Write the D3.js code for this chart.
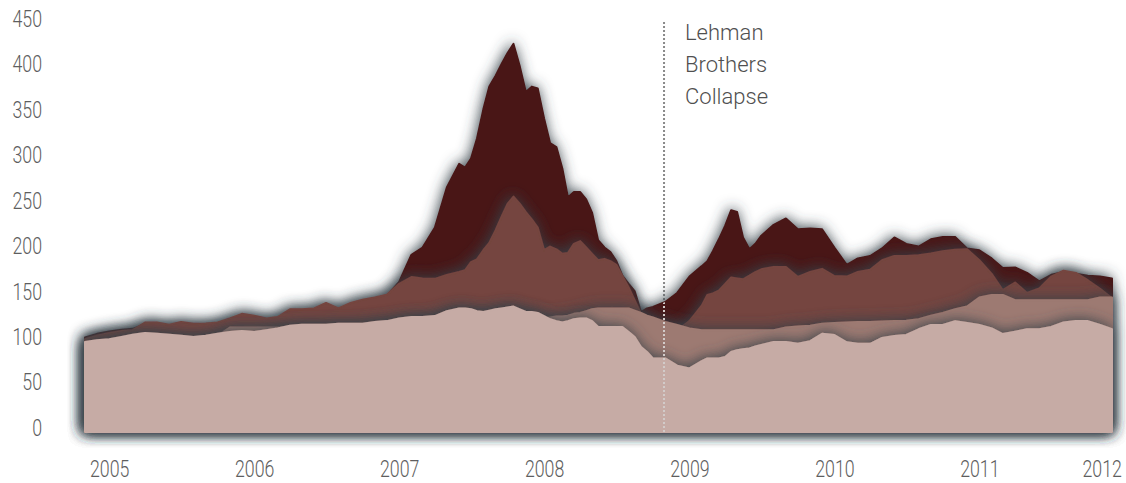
<!DOCTYPE html>
<html>
<head>
<meta charset="utf-8">
<script src="https://cdn.jsdelivr.net/npm/d3@7"></script>
<style>
  html, body { margin: 0; padding: 0; background: #ffffff; }
  svg { display: block; }
  .tick text { font-family: 'Roboto', 'Liberation Sans Narrow', 'DejaVu Sans Condensed', sans-serif; font-weight: 300; fill: #5e5e5e; }
  .note { font-family: 'Roboto', 'Open Sans', sans-serif; font-weight: 300; fill: #505050; }
</style>
</head>
<body>
<div id="chart"></div>
<script>
// ---------------- data ----------------
const dates = [
  "2004-11-01","2004-12-01","2005-01-01","2005-02-01","2005-03-01","2005-04-01","2005-05-01","2005-06-01",
  "2005-07-01","2005-08-01","2005-09-01","2005-10-01","2005-11-01","2005-12-01","2006-01-01","2006-02-01",
  "2006-03-01","2006-04-01","2006-05-01","2006-06-01","2006-07-01","2006-08-01","2006-09-01","2006-10-01",
  "2006-11-01","2006-12-01","2007-01-01","2007-02-01","2007-03-01","2007-04-01","2007-05-01","2007-06-01",
  "2007-06-16","2007-07-01","2007-07-16","2007-08-01","2007-08-16","2007-09-01","2007-09-16","2007-10-01",
  "2007-10-16","2007-11-01","2007-11-16","2007-12-01","2007-12-16","2008-01-01","2008-01-16","2008-02-01",
  "2008-02-16","2008-03-01","2008-03-16","2008-04-01","2008-04-16","2008-05-01","2008-05-16","2008-06-01",
  "2008-06-16","2008-07-01","2008-07-16","2008-08-01","2008-08-16","2008-09-01","2008-09-16","2008-10-01",
  "2008-11-01","2008-12-01","2009-01-01","2009-02-01","2009-02-15","2009-03-01","2009-03-16","2009-04-01",
  "2009-04-16","2009-05-01","2009-05-16","2009-06-01","2009-06-16","2009-07-01","2009-08-01","2009-09-01",
  "2009-10-01","2009-11-01","2009-12-01","2010-01-01","2010-02-01","2010-03-01","2010-04-01","2010-05-01",
  "2010-06-01","2010-07-01","2010-08-01","2010-09-01","2010-10-01","2010-11-01","2010-12-01","2011-01-01",
  "2011-02-01","2011-03-01","2011-04-01","2011-05-01","2011-06-01","2011-07-01","2011-08-01","2011-09-01",
  "2011-10-01","2011-11-01","2011-12-01"
];

// darkest series (drawn at the back)
const series1 = [
  104,108,110.5,112.5,113.5,118.5,118.5,116,
  119,117,117.5,118.5,123,128,126,123,
  124.5,133,133,134,140,134,140,143.5,
  146,150,165,195,203,225,269,295,
  291,301,323,355,380,392,405,417,
  427,402,374,380,378,345,318,313.5,
  290,258,264,264,256,241,211,203,
  198,188,172,163,155,132,136,137.5,
  143,153,171,182.5,188,199,212,227,
  244,242,214,201,207,216,228,235,
  223,224,223,203,184,191,193.6,202,
  214,207,204,212,214.5,214.5,202,200,
  191,180.5,181,175,165.7,173,176,174,
  172,171,169
];

// medium series
const series2 = [
  102,106,109,111,112,120.5,120.5,118,
  121,119,119.5,120.5,125,130,128,125,
  126.5,135,135,136,142,136,142,145.5,
  148,151,163,170.5,169,168.5,172.7,176,
  178,187,190,200,208,222,237,251,
  259,251,242,234,225,200,204,201,
  196,197,207,210,203,196,189,190.5,
  188,184,172,159,145,130,124,118,
  114,112,122,139,150.7,152.5,155.5,163,
  170,169,168,172,176,179,181.5,181.5,
  170.5,176,179.5,171.6,171,176,178.6,189,
  193.6,193.6,194.5,196.5,199,200.5,201,189,
  174,156,164.5,153,158,171,177.5,175,
  167,157.5,147
];

// mid-light series
const series3 = [
  97,99,100,102.5,105,107,106,105,
  104,102.5,104,106,115,115,115,115,
  115,115,116,116,116,117,117,117,
  119,120,122,124,124,125,130,133,
  133,132,131,129,131,132,133,134,
  135,133,130,130,129,125,126,127,
  127,128,130,131,133,135,136,136,
  136,136,136,136,133.5,131,128,126,
  121,117.7,114,112,112,112,112,112,
  112,112,112,112,112,112,112,115,
  116,117,119,120,120.5,121,121,121.5,
  122,122.5,124,128,131,135,138,148,
  150.7,150.7,145,145,145,145,145,145,
  145,148,148
];

// lightest series (drawn in front)
const series4 = [
  99,101,102,104.5,107,109,108,107,
  106,104.5,106,108,110,111,110,112,
  114,117,118,118,118,119,119,119,
  121,122,125,126.5,126.5,127.5,133,136,
  136,135,133,132,133.5,135,136,137,
  138,135,132,132,131,127.5,124,122,
  120.5,122,124,125,125,122,115.5,115.5,
  115.5,115.5,115.5,110,104.5,93.5,88,81,
  81,73,70,78,81,81,81,82.5,
  88,90,91,92,94,95.7,99,99,
  97,100,108,106.7,98.7,97,97,103.4,
  105.6,106.7,113,117.7,117.7,122,120,117.7,
  114,107.8,110.4,113,113,115.5,120.6,122,
  122,117.7,113
];

const seriesList = [series1, series2, series3, series4];
const seriesColors = ["#4a1513", "#74453f", "#9d7a72", "#c6aba5"];

const yTicks = [0, 50, 100, 150, 200, 250, 300, 350, 400, 450];
const xTicks = ["2005-01-01","2006-01-01","2007-01-01","2008-01-01","2009-01-01","2010-01-01","2011-01-01","2012-01-01"];

const eventDate = "2008-10-29";
const eventLabel = ["Lehman", "Brothers", "Collapse"];

// ---------------- chart ----------------
const W = 1126, H = 483;
const parse = d3.timeParse("%Y-%m-%d");
const dateObjs = dates.map(parse);

const x = d3.scaleTime()
  .domain([dateObjs[0], dateObjs[dateObjs.length - 1]])
  .range([85, 1112]);
const y = d3.scaleLinear().domain([0, 450]).range([432, 23]);

const svg = d3.select("#chart").append("svg")
  .attr("width", W).attr("height", H);

const defs = svg.append("defs");
const f = defs.append("filter").attr("id", "shadow")
  .attr("x", "-10%").attr("y", "-40%").attr("width", "120%").attr("height", "180%");
f.append("feDropShadow")
  .attr("dx", -1).attr("dy", -1)
  .attr("stdDeviation", 7)
  .attr("flood-color", "#39424a")
  .attr("flood-opacity", 0.95);

const area = d3.area()
  .x((d, i) => x(dateObjs[i]))
  .y0(y(0))
  .y1(d => y(d))
  .curve(d3.curveLinear);

const ex = x(parse(eventDate));

// gray dotted marker (visible on white background)
svg.append("line")
  .attr("x1", ex).attr("x2", ex)
  .attr("y1", y(0)).attr("y2", y(453))
  .attr("stroke", "#8a8a8a")
  .attr("stroke-width", 2)
  .attr("stroke-dasharray", "2,2");

svg.append("g").selectAll("path")
  .data(seriesList)
  .join("path")
  .attr("d", d => area(d))
  .attr("fill", (d, i) => seriesColors[i])
  .attr("stroke", (d, i) => seriesColors[i])
  .attr("stroke-width", 2)
  .attr("stroke-linejoin", "round")
  .attr("filter", "url(#shadow)");

// light dotted marker over the areas
const clip = defs.append("clipPath").attr("id", "areasClip");
clip.selectAll("path").data(seriesList).join("path").attr("d", d => area(d));
svg.append("line")
  .attr("x1", ex).attr("x2", ex)
  .attr("y1", y(0)).attr("y2", y(453))
  .attr("stroke", "#d2cbc9")
  .attr("stroke-width", 2)
  .attr("stroke-dasharray", "2,2")
  .attr("clip-path", "url(#areasClip)");

// y axis
const yAxis = svg.append("g")
  .attr("transform", "translate(42,0)")
  .call(d3.axisLeft(y).tickValues(yTicks).tickSize(0).tickPadding(0));
yAxis.select(".domain").remove();
yAxis.selectAll(".tick text")
  .attr("font-size", 24)
  .attr("dy", "0.35em")
  .attr("y", -5)
  .attr("transform", "scale(0.74,1)");

// x axis
const xAxis = svg.append("g")
  .attr("transform", "translate(0,452)")
  .call(d3.axisBottom(x).tickValues(xTicks.map(parse)).tickFormat(d3.timeFormat("%Y")).tickSize(0).tickPadding(0));
xAxis.select(".domain").remove();
xAxis.selectAll(".tick text")
  .attr("font-size", 24)
  .attr("dy", "0.71em")
  .attr("y", 8)
  .attr("transform", "scale(0.74,1)");
xAxis.selectAll(".tick").filter((d, i, n) => i === n.length - 1)
  .select("text").attr("text-anchor", "end").attr("x", -4);

// event label
svg.append("g").selectAll("text")
  .data(eventLabel)
  .join("text")
  .attr("class", "note")
  .attr("x", ex + 21)
  .attr("y", (d, i) => 40 + i * 32)
  .attr("font-size", 22)
  .text(d => d);
</script>
</body>
</html>
